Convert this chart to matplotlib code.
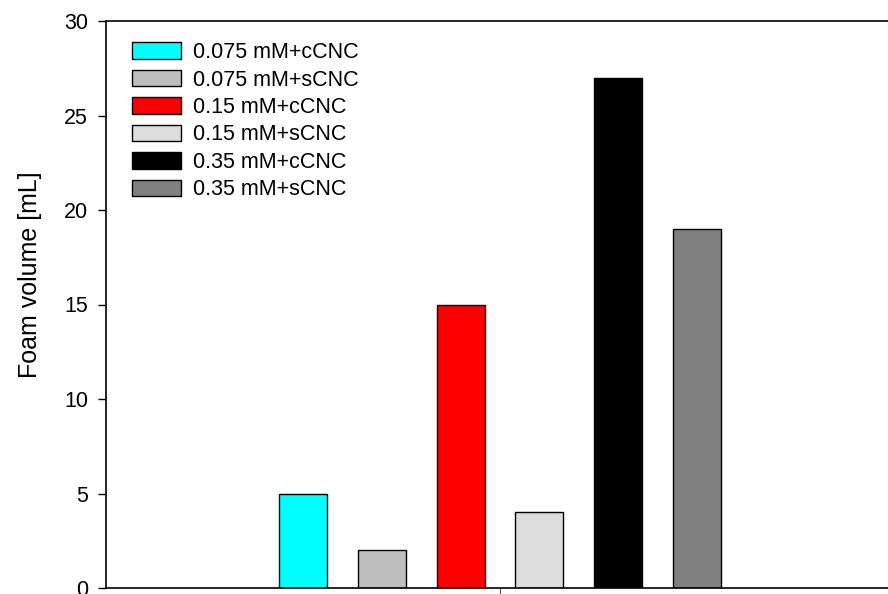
import matplotlib
matplotlib.use('Agg')
import matplotlib.pyplot as plt

plt.rcParams['font.family'] = ['Liberation Sans', 'DejaVu Sans']

# foam volume for each surfactant concentration / CNC type
labels = ['0.075 mM+cCNC', '0.075 mM+sCNC', '0.15 mM+cCNC',
          '0.15 mM+sCNC', '0.35 mM+cCNC', '0.35 mM+sCNC']
volumes = [5, 2, 15, 4, 27, 19]
colors = ['#00ffff', '#bebebe', '#ff0000', '#dcdcdc', '#000000', '#808080']
offsets = [-0.25, -0.15, -0.05, 0.05, 0.15, 0.25]

fig = plt.figure(figsize=(8.88, 5.94), dpi=100)
ax = fig.add_axes([106 / 888, 6 / 594, 788 / 888, 567 / 594])

for x, v, c, lab in zip(offsets, volumes, colors, labels):
    ax.bar(x, v, width=0.061, color=c, edgecolor='black', linewidth=1.0, label=lab)

ax.set_xlim(-0.5, 0.5)
ax.set_ylim(0, 30)
ax.set_yticks([0, 5, 10, 15, 20, 25, 30])
ax.set_xticks([0])
ax.set_xticklabels([''])
ax.tick_params(axis='y', labelsize=15.5, length=6, width=1, pad=7)
ax.tick_params(axis='x', length=7, width=0.8, color='#555555')
ax.spines['right'].set_visible(False)
for s in ['left', 'bottom', 'top']:
    ax.spines[s].set_linewidth(1.2)

ax.set_ylabel('Foam volume [mL]', fontsize=18)
ax.yaxis.set_label_coords(-0.081, 0.552)

ax.legend(loc='upper left', bbox_to_anchor=(0.022, 0.978), frameon=False,
          fontsize=15.5, borderaxespad=0, handlelength=2.3, handleheight=0.78,
          labelspacing=0.3, handletextpad=0.55)

fig.savefig('out.png', dpi=100)
